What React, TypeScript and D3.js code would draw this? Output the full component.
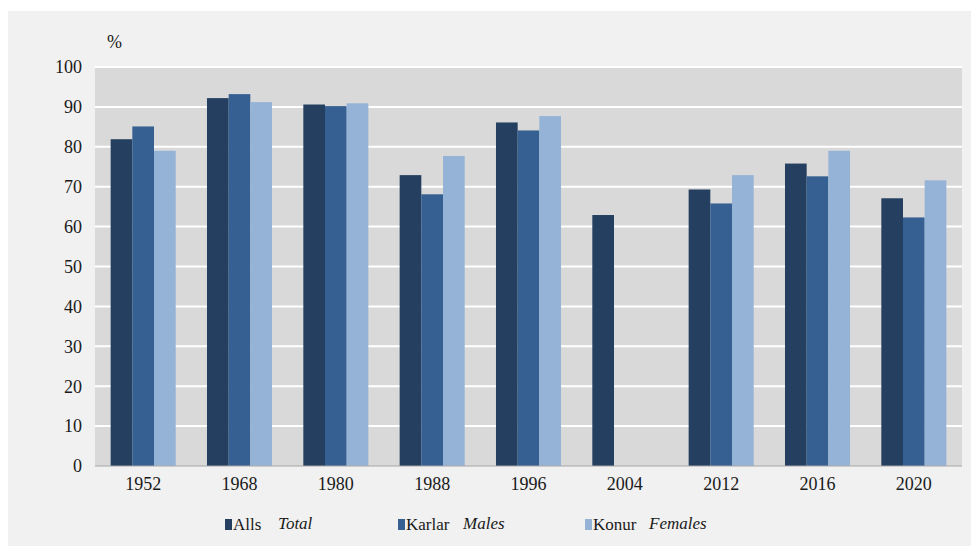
import * as d3 from 'd3';

const years = ['1952', '1968', '1980', '1988', '1996', '2004', '2012', '2016', '2020'];
const alls = [81.9, 92.2, 90.6, 72.9, 86.1, 62.9, 69.3, 75.8, 67.1];
const karlar = [85.1, 93.2, 90.2, 68.1, 84.1, null, 65.8, 72.6, 62.3];
const konur = [79.0, 91.2, 90.9, 77.7, 87.7, null, 72.9, 79.0, 71.6];
const yTicks = [0, 10, 20, 30, 40, 50, 60, 70, 80, 90, 100];

const series = [
  { key: 'Alls', en: 'Total', values: alls, color: '#243f60' },
  { key: 'Karlar', en: 'Males', values: karlar, color: '#366092' },
  { key: 'Konur', en: 'Females', values: konur, color: '#95b3d7' },
];

const W = 979;
const H = 554;
const left = 95;
const right = 962;
const top = 67;
const bottom = 466;

export default function App() {
  const x = d3.scaleBand().domain(years).range([left, right]).paddingInner(0.325).paddingOuter(0.1625);
  const inner = d3.scaleBand().domain(series.map((s) => s.key)).range([0, x.bandwidth()]);
  const y = d3.scaleLinear().domain([0, 100]).range([bottom, top]);
  const serif = { fontFamily: 'Liberation Serif, Tinos, Times New Roman, serif' };

  const legendX = [225, 398, 585];
  const legendEnX = [278, 463, 649];

  return (
    <svg width={W} height={H} style={{ display: 'block', margin: '-8px', ...serif }}>
      <rect x={8} y={11} width={W - 8} height={H - 11} fill="#f1f1f1" />
      <rect x={left} y={top} width={right - left} height={bottom - top} fill="#d9d9d9" />
      {yTicks.filter((t) => t > 0).map((t) => (
        <line key={t} x1={left} x2={right} y1={y(t)} y2={y(t)} stroke="#ffffff" strokeWidth={2} />
      ))}
      {yTicks.map((t) => (
        <text key={t} x={82} y={y(t)} dy="0.35em" textAnchor="end" fontSize={18} fill="#1a1a1a" style={serif}>
          {t}
        </text>
      ))}
      <text x={107} y={48} fontSize={18} fill="#1a1a1a" style={serif}>%</text>
      {series.map((s) =>
        s.values.map((v, i) =>
          v == null ? null : (
            <rect
              key={s.key + i}
              x={(x(years[i]) ?? 0) + (inner(s.key) ?? 0)}
              y={y(v)}
              width={inner.bandwidth()}
              height={bottom - y(v)}
              fill={s.color}
            />
          )
        )
      )}
      <line x1={left} x2={right} y1={bottom} y2={bottom} stroke="#a6a6a6" strokeWidth={1} />
      {years.map((yr) => (
        <text key={yr} x={(x(yr) ?? 0) + x.bandwidth() / 2} y={490} textAnchor="middle" fontSize={18} fill="#1a1a1a" style={serif}>
          {yr}
        </text>
      ))}
      {series.map((s, i) => (
        <g key={s.key}>
          <rect x={legendX[i]} y={519} width={7} height={11} fill={s.color} />
          <text x={legendX[i] + 8} y={530} fontSize={17} fill="#1a1a1a" style={serif}>{s.key}</text>
          <text x={legendEnX[i]} y={529} fontSize={17} fontStyle="italic" fill="#1a1a1a" style={serif}>{s.en}</text>
        </g>
      ))}
    </svg>
  );
}
